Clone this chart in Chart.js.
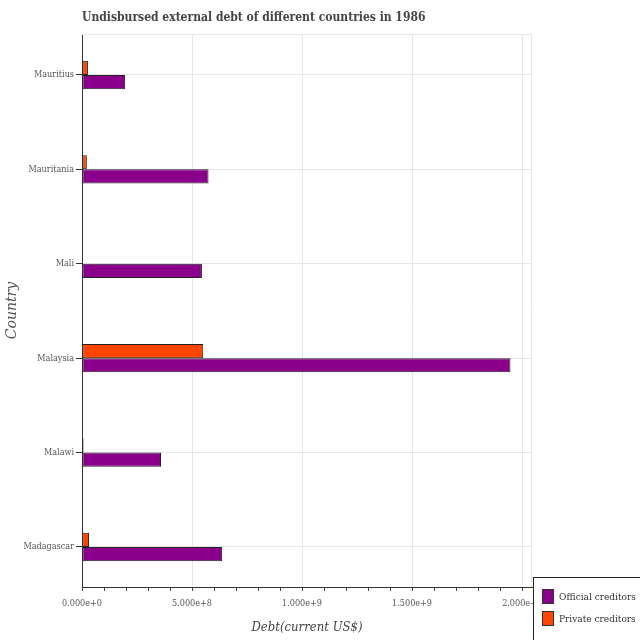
<!DOCTYPE html>
<html><head><meta charset="utf-8">
<script src="https://cdn.jsdelivr.net/npm/chart.js@4/dist/chart.umd.min.js"></script>
<style>html,body{margin:0;padding:0;background:#fff}#wrap{width:640px;height:640px}</style>
</head><body><div id="wrap"><canvas id="c" width="640" height="640"></canvas></div>
<script>
// Data (bottom to top)
const countries = ['Madagascar', 'Malawi', 'Malaysia', 'Mali', 'Mauritania', 'Mauritius'];
const officialCreditors = [6.37e8, 3.59e8, 1.947e9, 5.45e8, 5.75e8, 1.96e8];
const privateCreditors = [3.2e7, 7e6, 5.51e8, 3e6, 2.2e7, 2.7e7];
const xMajorTicks = [0, 5e8, 1e9, 1.5e9, 2e9];
const xMinorStep = 1e8;
const xMax = 2.045e9;

const SERIF = '"DejaVu Serif Condensed", "DejaVu Serif", serif';
const OFFICIAL_COLOR = '#8b008b';
const PRIVATE_COLOR = '#ff4500';

const pts = arr => arr.map((v, i) => ({ x: v, y: i }));

const framePlugin = {
  id: 'frame',
  beforeDatasetsDraw(chart) {
    const { ctx, chartArea: a } = chart;
    ctx.save();
    ctx.strokeStyle = '#e6e6e6';
    ctx.lineWidth = 1;
    ctx.beginPath();
    ctx.moveTo(a.left, a.top + 0.5);
    ctx.lineTo(a.right, a.top + 0.5);
    ctx.moveTo(a.right - 0.5, a.top);
    ctx.lineTo(a.right - 0.5, a.bottom);
    ctx.stroke();
    ctx.restore();
  }
};

const legendPlugin = {
  id: 'boxLegend',
  afterDraw(chart) {
    const { ctx } = chart;
    const items = [chart.data.datasets[1], chart.data.datasets[0]];
    ctx.save();
    ctx.fillStyle = '#ffffff';
    ctx.fillRect(533, 577, 120, 80);
    ctx.strokeStyle = '#222';
    ctx.lineWidth = 1;
    ctx.strokeRect(533.5, 577.5, 120, 80);
    ctx.font = '10px ' + SERIF;
    ctx.textBaseline = 'middle';
    items.forEach((ds, i) => {
      const y = 589 + i * 22;
      ctx.fillStyle = ds.backgroundColor;
      ctx.fillRect(542, y, 12, 15);
      ctx.strokeStyle = '#333';
      ctx.strokeRect(542.5, y + 0.5, 11, 14);
      ctx.fillStyle = '#333';
      ctx.fillText(ds.label, 559, y + 8);
    });
    ctx.restore();
  }
};

new Chart(document.getElementById('c'), {
  type: 'bar',
  data: {
    datasets: [
      { label: 'Private creditors', data: pts(privateCreditors), backgroundColor: PRIVATE_COLOR,
        borderColor: '#222', borderWidth: 1, borderSkipped: false },
      { label: 'Official creditors', data: pts(officialCreditors), backgroundColor: OFFICIAL_COLOR,
        borderColor: '#222', borderWidth: 1, borderSkipped: false }
    ]
  },
  options: {
    indexAxis: 'y',
    responsive: false,
    animation: false,
    devicePixelRatio: 1,
    categoryPercentage: 0.3,
    barPercentage: 1.0,
    layout: { padding: { top: 0, right: 108, bottom: 0, left: 0 } },
    plugins: {
      legend: { display: false },
      tooltip: { enabled: false },
      title: {
        display: true, fullSize: false, align: 'start', position: 'top',
        text: 'Undisbursed external debt of different countries in 1986',
        color: '#444', font: { family: SERIF, size: 12, weight: 'bold' },
        padding: { top: 11, bottom: 8.6 }
      }
    },
    scales: {
      x: {
        type: 'linear', position: 'bottom', min: 0, max: xMax, offset: false,
        afterBuildTicks(s) {
          const t = [];
          for (let v = 0; v <= xMajorTicks[xMajorTicks.length - 1] + 1; v += xMinorStep) t.push({ value: Math.round(v) });
          s.ticks = t;
        },
        afterFit(s) { s.height = 53; },
        ticks: {
          autoSkip: false, maxRotation: 0, padding: 7, color: '#555',
          font: { family: SERIF, size: 9 },
          callback: v => xMajorTicks.includes(v) ? v.toExponential(3) : ''
        },
        grid: {
          offset: false,
          color: c => (c.tick && xMajorTicks.includes(c.tick.value)) ? '#e6e6e6' : 'rgba(0,0,0,0)',
          tickColor: '#444', tickLength: 4, drawTicks: true
        },
        border: { color: '#333', width: 1 },
        title: { display: true, text: 'Debt(current US$)', color: '#444',
          font: { family: SERIF, size: 13, style: 'italic' }, padding: { top: 0, bottom: 5 } }
      },
      y: {
        type: 'linear', min: -0.424, max: 5.434, offset: false,
        afterBuildTicks(s) { s.ticks = countries.map((c, i) => ({ value: i })); },
        afterFit(s) { s.width = 82; },
        ticks: {
          autoSkip: false, padding: 2, color: '#555',
          font: { family: SERIF, size: 9 },
          callback: v => countries[v] !== undefined ? countries[v] : ''
        },
        grid: { offset: false, color: '#e6e6e6', tickColor: '#333', tickLength: 6 },
        border: { color: '#333', width: 1 },
        title: { display: true, text: 'Country', color: '#555',
          font: { family: '"DejaVu Serif", serif', size: 14, style: 'italic' }, padding: { top: 4, bottom: 0 } }
      }
    }
  },
  plugins: [framePlugin, legendPlugin]
});
</script>
</body></html>
